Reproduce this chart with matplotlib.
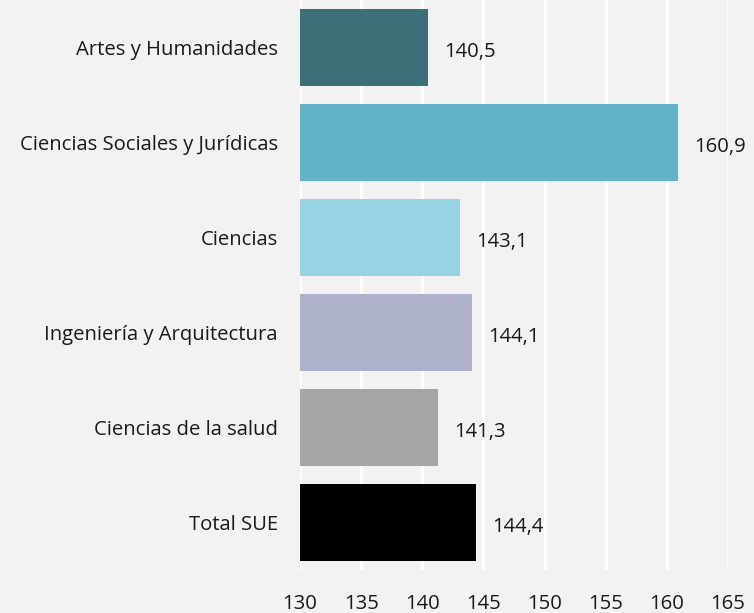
import matplotlib
matplotlib.use('Agg')
import matplotlib.pyplot as plt

plt.rcParams['font.family'] = ['Open Sans', 'DejaVu Sans']

categories = ['Artes y Humanidades', 'Ciencias Sociales y Jurídicas', 'Ciencias',
              'Ingeniería y Arquitectura', 'Ciencias de la salud', 'Total SUE']
values = [140.5, 160.9, 143.1, 144.1, 141.3, 144.4]
colors = ['#3d6f79', '#62b3c8', '#98d3e3', '#adb1c9', '#a6a6a6', '#000000']
ticks = [130, 135, 140, 145, 150, 155, 160, 165]

fig = plt.figure(figsize=(7.54, 6.13), dpi=100)
fig.patch.set_facecolor('#f2f2f2')
ax = fig.add_axes([0.398, 0.07, 0.5675, 0.93])
ax.set_facecolor('#f2f2f2')

base = 130
pos = list(range(len(categories)))
ax.barh(pos, [v - base for v in values], left=base, height=0.81, color=colors, zorder=2)

for p, v in zip(pos, values):
    ax.text(v + 1.3, p + 0.05, f'{v:.1f}'.replace('.', ','), va='center', ha='left',
            fontsize=14.6, color='#1a1a1a', zorder=3)

ax.set_xlim(130, 165)
ax.set_ylim(5.5, -0.5)
ax.set_xticks(ticks)
ax.set_xticklabels([str(t) for t in ticks], fontsize=14.6, color='#1a1a1a')
ax.set_yticks(pos)
ax.set_yticklabels(categories, fontsize=14.6, color='#1a1a1a')
ax.tick_params(axis='both', length=0)
ax.tick_params(axis='x', pad=17)
ax.tick_params(axis='y', pad=16)
ax.grid(axis='x', color='white', linewidth=2, zorder=1)
ax.set_axisbelow(True)
for s in ax.spines.values():
    s.set_visible(False)

fig.savefig('out.png', dpi=100, facecolor=fig.get_facecolor())
